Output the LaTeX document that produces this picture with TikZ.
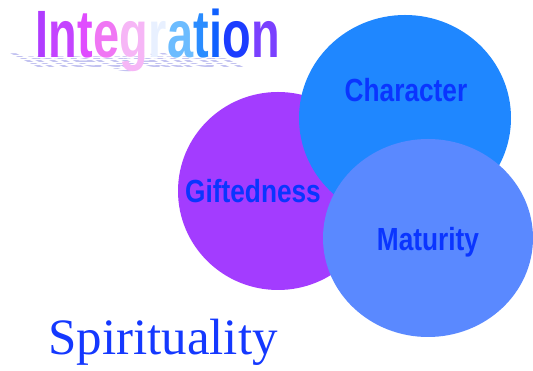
\documentclass[tikz,border=0pt]{standalone}
\usepackage{fontspec}
\setmainfont{Liberation Serif}
\newfontfamily\headfont{Liberation Sans}
\usetikzlibrary{shapes.geometric}

\definecolor{giftpurple}{HTML}{A33CFF}
\definecolor{charblue}{HTML}{1F87FF}
\definecolor{matblue}{HTML}{5A89FF}
\definecolor{labelblue}{HTML}{0A35FF}
\definecolor{spiritblue}{HTML}{1438FF}
\definecolor{shadowlav}{HTML}{C2C2F0}

% Colours of the title letters, left to right
\definecolor{tA}{HTML}{B03CFF}
\definecolor{tB}{HTML}{C444FF}
\definecolor{tC}{HTML}{E04CFF}
\definecolor{tD}{HTML}{F076F4}
\definecolor{tE}{HTML}{F6B6F6}
\definecolor{tF}{HTML}{E8F0FF}
\definecolor{tG}{HTML}{6CBCFF}
\definecolor{tH}{HTML}{2A8CFF}
\definecolor{tI}{HTML}{1060FF}
\definecolor{tJ}{HTML}{1C3CFF}
\definecolor{tK}{HTML}{7A40FF}

\newcommand{\titlefont}{\headfont\bfseries\fontsize{67}{67}\selectfont}

\begin{document}
\begin{tikzpicture}[x=1pt, y=1pt,
    titleletter/.style={font=\titlefont, xscale=0.7, inner sep=0pt, anchor=base west},
    circlelabel/.style={text=labelblue, font=\headfont\bfseries\fontsize{32}{32}\selectfont, xscale=0.82, inner sep=0pt, anchor=base}]
    \useasboundingbox (0,0) rectangle (533,371);

    % Shadow of the title, sheared and striped
    \begin{scope}[cm={0.87,0,-0.6,0.3,(35,303)}]
        \node[titleletter, transform shape, text=shadowlav] (shadow) at (0,0) {Integration};
    \end{scope}
    \foreach \k in {0,...,8}
        \draw[white, line width=0.9pt] (0,{301.5+2.4*\k}) -- (280,{301.5+2.4*\k});

    % Title, one colour per letter
    \node[titleletter, text=tA] (t1) at (35,313) {I};
    \foreach \ch/\col [count=\i from 2, remember=\i as \j (initially 1)] in
        {n/tB, t/tC, e/tD, g/tE, r/tF, a/tG, t/tH, i/tI, o/tJ, n/tK}
        \node[titleletter, text=\col] (t\i) at (t\j.base east) {\ch};

    % Circles
    \node[ellipse, fill=giftpurple, minimum width=200, minimum height=198, inner sep=0pt] (gifted) at (278,180) {};
    \node[ellipse, fill=charblue, minimum width=212, minimum height=206, inner sep=0pt] (character) at (405,253) {};
    \node[ellipse, fill=matblue, minimum width=210, minimum height=198, inner sep=0pt] (maturity) at (428,133) {};

    % Circle labels
    \node[circlelabel] (charlabel) at (406,269) {Character};
    \node[circlelabel] (giftlabel) at (253,168) {Giftedness};
    \node[circlelabel] (matlabel) at (428,120) {Maturity};

    % Bottom caption
    \node[anchor=base west, text=spiritblue, font=\fontsize{51}{51}\selectfont, inner sep=0pt] (spirit) at (48,16) {Spirituality};
\end{tikzpicture}
\end{document}
